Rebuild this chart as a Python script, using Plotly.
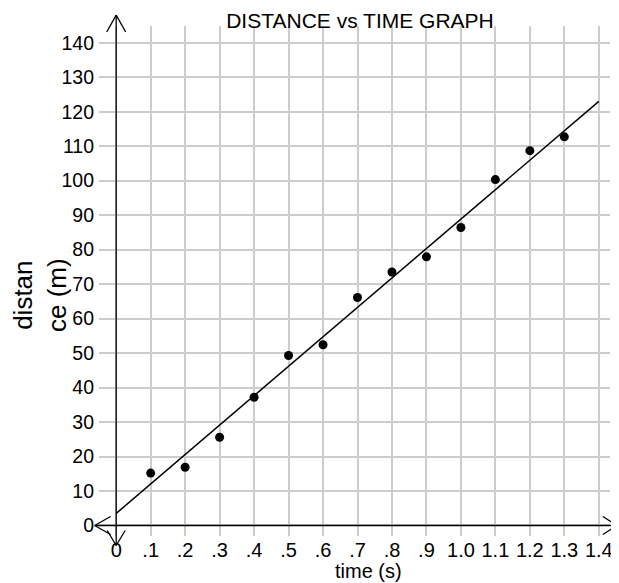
import plotly.graph_objects as go

# ---- data ----
time_s = [0.1, 0.2, 0.3, 0.4, 0.5, 0.6, 0.7, 0.8, 0.9, 1.0, 1.1, 1.2, 1.3]
distance_m = [15.2, 16.9, 25.6, 37.2, 49.3, 52.4, 66.1, 73.5, 77.9, 86.4, 100.3, 108.7, 112.7]
fit_time = [0.0, 1.4]
fit_distance = [3.5, 123.0]
x_tick_vals = [0, 0.1, 0.2, 0.3, 0.4, 0.5, 0.6, 0.7, 0.8, 0.9, 1.0, 1.1, 1.2, 1.3, 1.4]
x_tick_text = ["0", ".1", ".2", ".3", ".4", ".5", ".6", ".7", ".8", ".9",
               "1.0", "1.1", "1.2", "1.3", "1.4"]
y_tick_vals = [0, 10, 20, 30, 40, 50, 60, 70, 80, 90, 100, 110, 120, 130, 140]
y_tick_text = [str(v) for v in y_tick_vals]

title_text = "DISTANCE vs TIME GRAPH"
x_title = "time (s)"
y_title = "distan<br>ce (m)"

FONT = "Liberation Sans, Arial, sans-serif"
# page body has an 8px margin; figure placed at (8, 8)
OFF = 8
W, H = 619 - OFF, 583 - OFF
ML, MR, MT, MB = 99 - OFF, 9, 26 - OFF, 47
PW, PH = W - ML - MR, H - MT - MB
XR = [-0.0499, 1.4325]
YR = [-3.05, 144.85]


def px(v):
    return (v - XR[0]) / (XR[1] - XR[0])


def py(v):
    return (v - YR[0]) / (YR[1] - YR[0])


fig = go.Figure()
fig.add_trace(go.Scatter(x=fit_time, y=fit_distance, mode="lines",
                         line=dict(color="black", width=1.5),
                         showlegend=False, hoverinfo="skip"))
fig.add_trace(go.Scatter(x=time_s, y=distance_m, mode="markers",
                         marker=dict(color="black", size=9),
                         showlegend=False))

shapes = []


def seg(x0, y0, x1, y1):
    shapes.append(dict(type="line", xref="paper", yref="paper",
                       x0=px(x0), y0=py(y0), x1=px(x1), y1=py(y1),
                       line=dict(color="black", width=1.3), layer="above"))


# axes with arrows (decoration)
x_left, x_right = -0.0624, 1.4528
y_bot, y_top = -5.8, 148.0
seg(0, y_bot, 0, y_top)
seg(x_left, 0, x_right, 0)
seg(0, y_top, -0.0276, y_top - 4.9)
seg(0, y_top, 0.0276, y_top - 4.9)
seg(0, y_bot, -0.026, y_bot + 4.35)
seg(0, y_bot, 0.026, y_bot + 4.35)
seg(x_left, 0, x_left + 0.046, 2.6)
seg(x_left, 0, x_left + 0.046, -2.6)
seg(x_right, 0, x_right - 0.041, 2.6)
seg(x_right, 0, x_right - 0.041, -2.6)

fig.update_layout(
    template="none",
    width=W, height=H,
    margin=dict(l=ML, r=MR, t=MT, b=MB, autoexpand=False),
    paper_bgcolor="white", plot_bgcolor="white",
    font=dict(family=FONT, color="black", size=19),
    shapes=shapes,
    showlegend=False,
    title=dict(text=title_text, x=(360 - OFF) / W, xref="container", xanchor="center",
               y=1 - (21 - OFF) / H, yref="container", yanchor="middle",
               font=dict(family=FONT, size=21, color="black")),
    xaxis=dict(range=XR, tickvals=x_tick_vals, ticktext=x_tick_text,
               showgrid=True, gridcolor="#cccccc", gridwidth=1.5,
               zeroline=False, showline=False, ticks="", automargin=False,
               tickfont=dict(size=20), fixedrange=True),
    yaxis=dict(range=YR, tickvals=y_tick_vals, ticktext=y_tick_text,
               showgrid=True, gridcolor="#cccccc", gridwidth=1.5,
               zeroline=False, showline=False, ticks="", automargin=False,
               ticklabelstandoff=4,
               tickfont=dict(size=19.5), fixedrange=True),
    annotations=[
        dict(text=y_title, xref="paper", yref="paper",
             x=(40 - OFF - ML) / PW, y=1 - (295 - OFF - MT) / PH,
             xanchor="center", yanchor="middle", textangle=-90,
             showarrow=False, font=dict(family=FONT, size=26, color="black")),
        dict(text=x_title, xref="paper", yref="paper",
             x=(368 - OFF - ML) / PW, y=1 - (571 - OFF - MT) / PH,
             xanchor="center", yanchor="middle",
             showarrow=False, font=dict(family=FONT, size=20, color="black")),
    ],
)

fig.write_html("out.html")
